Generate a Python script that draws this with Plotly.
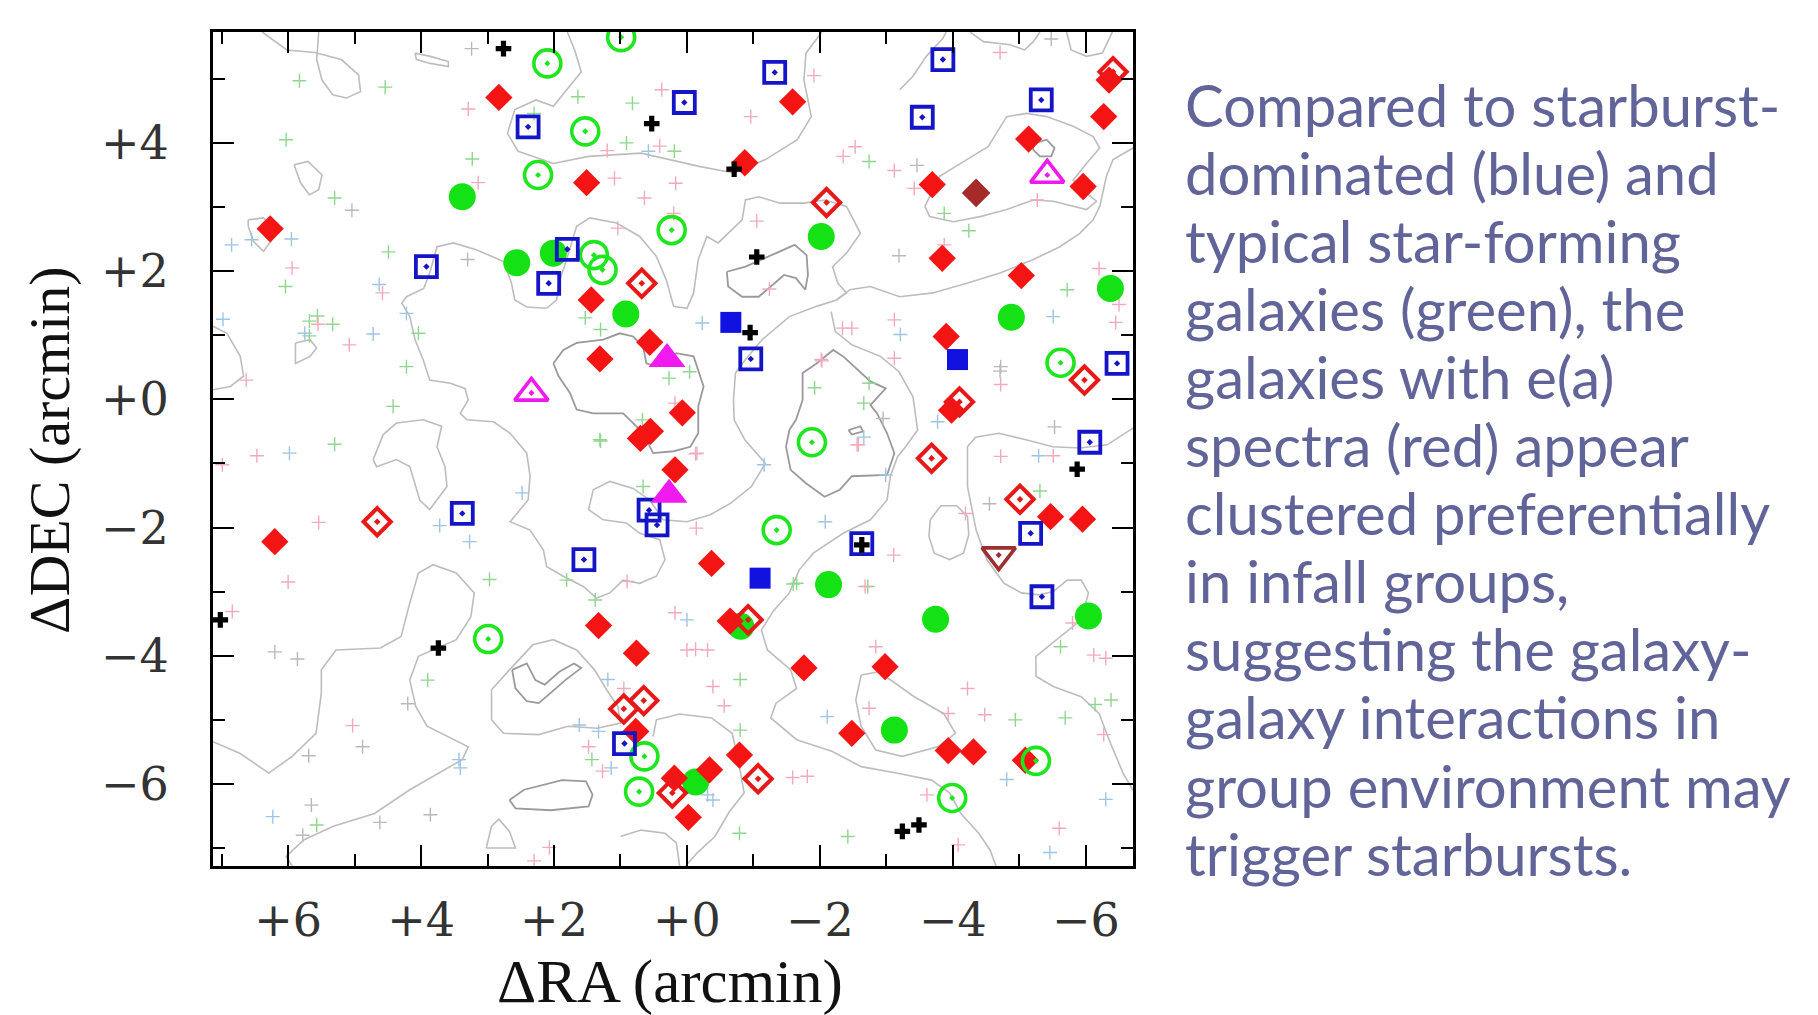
import plotly.graph_objects as go

# ---------------- data (arcmin offsets) ----------------
red_filled = [(2.83,4.71),(1.51,3.38),(6.27,2.66),(1.44,1.55),(0.56,0.89),(1.31,0.63),(0.07,-0.21),
              (0.70,-0.61),(0.55,-0.50),(-1.59,4.64),(-6.35,4.98),(-6.27,4.41),(-5.14,4.06),(-0.87,3.69),
              (-3.69,3.35),(-5.96,3.32),(-3.84,2.20),(-5.03,1.93),(-3.90,0.98),(-3.98,-0.17),(0.18,-1.10),
              (6.20,-2.22),(1.33,-3.53),(0.76,-3.96),(0.77,-5.18),(0.19,-5.91),(-0.02,-6.52),(-5.47,-1.83),
              (-5.95,-1.87),(-0.37,-2.56),(-0.65,-3.46),(-1.76,-4.19),(-2.98,-4.17),(-2.48,-5.21),
              (-3.93,-5.48),(-4.31,-5.50),(-5.09,-5.63),(-0.34,-5.78),(-0.79,-5.55)]
red_open = [(0.68,1.81),(-6.41,5.11),(-2.10,3.07),(-5.98,0.30),(-4.10,-0.04),(4.66,-1.91),(0.95,-4.83),
            (0.65,-4.70),(0.22,-6.14),(-3.68,-0.92),(-5.01,-1.56),(-0.92,-3.44),(-1.07,-5.92)]
green_filled = [(3.38,3.16),(2.56,2.13),(2.01,2.28),(0.92,1.33),(-2.02,2.54),(-6.37,1.73),(-4.88,1.28),
                (-0.13,-5.97),(-2.13,-2.89),(-3.74,-3.43),(-6.04,-3.38),(-0.81,-3.54),(-3.12,-5.16)]
green_open = [(0.99,5.65),(2.10,5.24),(1.53,4.18),(2.24,3.50),(0.23,2.64),(1.40,2.25),(1.27,2.02),
              (-5.62,0.57),(-1.88,-0.67),(2.99,-3.74),(-1.35,-2.04),(0.64,-5.57),(0.72,-6.12),
              (-5.25,-5.64),(-3.99,-6.22)]
blue_open = [(0.04,4.63),(2.39,4.25),(3.92,2.07),(1.80,2.34),(2.08,1.81),(-1.32,5.10),(-3.85,5.30),
             (-3.54,4.40),(-5.33,4.67),(-0.96,0.63),(-6.47,0.56),(3.38,-1.78),(0.57,-1.73),(0.45,-1.96),
             (1.55,-2.50),(0.94,-5.37),(-6.06,-0.67),(-5.17,-2.09),(-2.63,-2.25),(-5.34,-3.08)]
blue_filled = [(-0.66,1.20),(-4.07,0.62),(-1.10,-2.79)]
magenta_open = [(2.34,0.10),(-5.42,3.50)]
magenta_filled = [(0.30,0.63),(0.27,-1.49)]
brown_filled = [(-4.35,3.22)]
brown_open_down = [(-4.69,-2.43)]
black_plus = [(2.76,5.47),(0.53,4.30),(-0.71,3.59),(-1.05,2.22),(-0.95,1.04),(7.02,-3.44),(3.74,-3.88),
              (-2.63,-2.27),(-5.87,-1.09),(-3.24,-6.74),(-3.49,-6.64)]

faint_green = [(5.83,4.97),(4.54,4.87),(6.03,4.05),(3.23,3.75),(5.30,3.14),(4.49,2.30),(6.04,1.76),
               (4.04,1.03),(5.68,1.22),(5.56,1.30),(5.33,1.17),(5.68,0.99),(4.22,0.51),(4.42,-0.11),
               (1.64,4.72),(0.82,4.62),(0.91,4.00),(0.19,3.87),(1.53,1.27),(1.30,1.09),(-0.04,0.43),
               (0.27,0.33),(0.67,-0.32),(1.30,-0.65),(5.30,-0.70),(2.30,4.46),(-2.74,3.71),(-3.87,2.90),
               (-4.24,2.63),(-5.72,1.71),(-1.92,0.18),(-2.74,0.25),(-2.66,-0.06),(2.97,-2.81),(1.81,-2.82),
               (1.38,-3.13),(3.90,-4.38),(1.43,-5.62),(5.57,-6.64),(-1.60,-2.88),(-2.72,-2.92),(-0.80,-4.37),
               (-4.94,-5.00),(-5.69,-4.97),(-6.14,-4.76),(-6.38,-4.69),(-5.62,-3.86),(-0.80,-5.16),
               (-2.42,-6.82),(-0.79,-6.77),(-5.31,-1.43),(-1.65,-2.87),(0.66,-1.36),(1.31,-0.63)]
faint_pink = [(3.29,4.53),(3.14,3.38),(5.94,2.05),(4.58,1.66),(5.08,0.85),(5.55,1.17),(6.63,0.30),
              (1.20,3.88),(0.38,4.83),(0.41,3.95),(1.09,3.45),(0.17,3.37),(0.64,3.14),(0.20,2.90),
              (1.04,2.67),(-1.91,5.05),(-0.96,4.41),(-4.71,5.41),(-2.35,3.79),(-2.53,3.94),(-3.42,3.29),
              (-5.27,3.11),(-1.05,2.78),(-1.24,1.72),(-3.87,2.41),(-2.34,1.11),(-2.48,1.11),(-3.12,1.24),
              (-3.12,0.64),(-4.72,0.23),(-6.20,2.04),(-6.50,1.48),(-6.45,1.20),(-2.03,0.60),(-2.56,-0.71),
              (6.47,-0.88),(6.99,-1.02),(5.54,-1.92),(6.00,-2.85),(0.90,-2.84),(6.84,-3.31),(0.18,-3.33),
              (5.03,-5.09),(1.48,-5.42),(1.27,-5.80),(0.95,-4.51),(2.07,-6.99),(-0.14,-2.01),(0.00,-3.91),
              (2.30,-7.20),(-0.13,-0.85),(-2.58,-0.71),(-3.11,-2.43),(-0.13,-3.90),(-0.31,-3.91),
              (-0.39,-4.48),(-0.56,-4.78),(-2.74,-4.82),(-2.84,-3.86),(-4.22,-4.51),(-3.93,-4.90),
              (-4.48,-4.92),(-6.27,-5.23),(-6.12,-3.99),(-6.30,-4.04),(-5.80,-3.49),(-1.59,-5.90),
              (-1.81,-5.88),(-3.61,-6.17),(-4.08,-6.95),(-5.60,-6.69),(-4.72,-0.89),(-5.51,-0.88),
              (-4.19,-1.78),(0.18,-0.06),(-2.02,0.62),(-2.68,-2.92),(-0.15,-0.84),(-3.12,3.57),
              (-3.67,3.37)]
faint_blue = [(6.85,2.41),(5.95,2.50),(6.98,1.25),(5.75,1.03),(4.72,1.02),(4.63,1.79),(0.58,3.87),
              (4.22,1.34),(-0.23,1.19),(-3.21,1.01),(-5.51,1.29),(-3.77,-0.35),(-2.66,-0.59),(5.98,-0.84),
              (2.48,-1.46),(3.72,-1.97),(3.27,-2.22),(0.00,-3.44),(3.43,-5.62),(3.41,-5.75),(1.14,-5.75),
              (1.62,-5.08),(1.33,-5.18),(1.19,-4.37),(6.23,-6.51),(-1.16,-1.02),(-2.08,-1.91),
              (-2.11,-4.95),(-4.81,-5.93),(-6.30,-6.24),(-5.46,-7.07),(-5.29,-0.88),(-0.31,-6.17),
              (-0.39,-6.25),(6.55,2.49),(-2.99,-1.18)]
faint_gray = [(3.24,5.47),(5.04,2.95),(3.30,2.18),(-5.48,5.62),(-3.46,3.65),(-3.19,2.24),(-4.72,0.51),
              (-2.95,-0.30),(-5.53,-0.43),(6.20,-3.94),(5.86,-4.05),(4.20,-4.75),(4.88,-5.42),(5.69,-5.56),
              (5.65,-6.33),(5.78,-6.80),(4.62,-6.60),(3.86,-6.48),(-4.55,-1.63),(-4.71,0.44)]

# density contours (light level)
cont_A = [(1.80,5.73),(1.69,5.45),(1.59,5.11),(2.01,4.57),(2.27,4.67),(2.59,4.52),(2.70,4.15),(2.54,3.87),
          (2.01,3.68),(1.48,3.79),(0.69,3.84),(-0.20,3.63),(-0.71,3.53),(-1.18,3.74),(-1.66,4.05),
          (-1.87,4.41),(-1.76,4.98),(-1.79,5.40),(-2.03,5.73)]
cont_B = [(6.39,5.73),(6.02,5.45),(5.60,5.41),(5.20,5.30),(4.94,5.06),(4.91,4.80),(5.12,4.70),(5.33,4.75),
          (5.49,4.98),(5.57,5.30),(5.54,5.73)]
cont_blob1 = [(5.91,3.66),(5.70,3.71),(5.49,3.50),(5.54,3.27),(5.68,3.19),(5.81,3.37),(5.91,3.66)]
cont_blob2 = [(6.60,2.80),(6.37,2.83),(6.17,2.59),(6.37,2.31),(6.52,2.46),(6.60,2.70),(6.60,2.80)]
cont_blob3 = [(4.09,5.40),(3.86,5.35),(3.59,5.27),(3.59,5.19),(3.86,5.24),(4.07,5.30),(4.09,5.40)]
cont_blob4 = [(5.89,0.88),(5.67,0.93),(5.57,0.80),(5.67,0.67),(5.89,0.56),(5.89,0.88)]
cont_edge1 = [(7.13,1.14),(6.92,1.03),(6.72,0.67),(6.67,0.36),(6.87,0.20),(7.13,0.15)]
cont_C = [(2.76,2.15),(3.16,2.33),(3.51,2.44),(3.76,2.38),(3.87,1.97),(3.96,1.73),(4.22,1.60),(4.29,1.50),
          (4.17,1.29),(4.09,0.93),(3.97,0.62),(3.87,0.30),(3.56,0.25),(3.34,0.17),(3.29,-0.01),(3.41,-0.22),
          (3.31,-0.32),(2.91,-0.35),(2.66,-0.53),(2.41,-0.84),(2.36,-1.20),(2.39,-1.57),(2.66,-1.91),
          (2.36,-2.04),(2.16,-2.35),(2.11,-2.61),(1.86,-2.76),(1.56,-2.92),(1.36,-3.10),(1.16,-3.02),
          (0.96,-2.82),(0.71,-2.87),(0.46,-2.76),(0.33,-2.50),(0.41,-2.19),(0.71,-2.09),(0.91,-1.93),
          (1.26,-1.88),(1.48,-1.72),(1.41,-1.41),(1.16,-1.28),(0.81,-1.39),(0.56,-1.57),(0.36,-1.88),
          (0.00,-1.91),(-0.35,-1.80),(-0.66,-1.62),(-0.97,-1.36),(-1.18,-1.00),(-0.87,-0.63),(-0.71,-0.32),
          (-0.70,-0.01),(-0.73,0.41),(-0.88,0.62),(-1.13,0.93),(-1.54,1.29),(-1.95,1.45),(-2.25,1.55),
          (-2.45,1.71),(-2.76,1.76),(-3.20,1.60),(-3.70,1.66),(-4.21,1.81),(-4.71,1.97),(-5.21,2.18),
          (-5.61,2.38),(-5.91,2.59),(-6.11,2.80),(-6.21,3.01),(-6.31,3.48),(-6.41,3.74),(-6.71,3.92)]
cont_C_top = [(2.76,2.15),(2.64,1.81),(2.59,1.55),(2.41,1.44),(2.11,1.42),(1.96,1.55),(1.93,1.81),(1.81,2.18),
              (1.66,2.70),(1.46,2.83),(1.06,2.75),(0.71,2.54),(0.46,2.23),(0.31,1.86),(0.20,1.45),(0.00,1.42),
              (-0.10,1.66),(-0.17,2.18),(-0.30,2.54),(-0.47,2.44),(-0.83,2.80),(-0.88,3.11),(-1.08,3.16),
              (-1.40,3.06),(-1.76,3.06),(-2.08,3.11),(-2.40,3.01),(-2.61,2.59),(-2.40,2.28),(-2.19,2.07),
              (-2.27,1.81),(-2.40,1.66),(-2.25,1.55)]
cont_D2 = [(-3.58,3.01),(-3.80,3.48),(-4.21,3.74),(-4.53,3.94),(-4.81,4.41),(-5.11,4.46),(-5.41,4.41),
           (-5.81,4.26),(-6.11,4.10),(-6.21,3.92),(-6.01,3.68),(-5.81,3.42),(-6.01,3.22),(-6.16,3.09),
           (-6.01,2.96),(-5.51,3.09),(-5.21,3.11),(-4.81,2.96),(-4.41,2.85),(-4.01,2.77),(-3.65,2.85),
           (-3.58,3.01)]
cont_top_r = [(-4.26,5.73),(-4.46,5.58),(-4.86,5.53),(-5.08,5.45),(-5.21,5.58),(-5.31,5.73)]
cont_top_rr = [(-5.71,5.73),(-5.78,5.45),(-6.01,5.35),(-6.25,5.40),(-6.40,5.73)]
cont_top_m = [(-3.20,4.83),(-3.40,5.04),(-3.60,5.35),(-3.85,5.63),(-3.90,5.73)]
cont_mid = [(4.72,-0.94),(4.57,-0.55),(4.37,-0.37),(3.97,-0.32),(3.69,-0.42),(3.76,-0.74),(3.64,-1.05),
            (3.61,-1.36),(3.87,-1.72),(4.02,-1.57),(4.17,-1.05),(4.37,-0.94),(4.67,-1.05),(4.72,-0.94)]
cont_lobe = [(7.13,-5.34),(6.73,-5.52),(6.29,-5.83),(5.94,-5.57),(5.58,-5.21),(5.50,-4.58),(5.50,-4.22),
             (5.28,-3.91),(4.61,-3.88),(4.30,-3.70),(4.17,-3.18),(4.04,-2.71),(3.82,-2.58),(3.47,-2.71),
             (3.20,-3.02),(3.25,-3.39),(3.47,-3.75),(4.04,-4.01),(4.17,-4.38),(4.08,-4.79),(3.91,-5.10),
             (3.29,-5.42),(3.38,-5.62),(3.73,-5.83),(4.17,-6.09),(4.70,-6.46),(5.32,-6.66),(5.76,-6.87),
             (6.03,-7.13),(5.94,-7.28)]
cont_ctr = [(2.94,-5.00),(2.94,-4.53),(2.67,-4.22),(2.32,-3.83),(2.01,-3.75),(1.66,-3.91),(1.39,-4.22),
            (1.21,-4.53),(1.04,-4.79),(1.00,-5.05),(1.35,-5.13),(1.79,-5.10),(2.23,-5.23),(2.76,-5.21),
            (2.94,-5.00)]
cont_small_b = [(3.02,-7.00),(2.94,-6.66),(2.83,-6.55),(2.67,-6.74),(2.58,-7.00),(3.02,-7.00)]
cont_lowc = [(0.51,-5.26),(0.46,-5.00),(0.11,-4.91),(-0.37,-4.97),(-0.68,-5.21),(-0.77,-5.62),(-0.86,-6.14),
             (-0.64,-6.43),(-0.42,-6.82),(-0.15,-7.08),(0.02,-7.28)]
cont_lowl = [(1.00,-6.82),(0.69,-6.72),(0.33,-6.77),(0.16,-6.92),(0.11,-7.28)]
cont_E = [(-2.17,1.37),(-2.23,1.06),(-2.48,0.85),(-2.91,0.67),(-3.19,0.43),(-3.40,0.04),(-3.47,-0.48),
          (-3.29,-0.74),(-3.17,-0.89),(-3.06,-1.20),(-3.01,-1.57),(-2.76,-1.88),(-2.35,-2.09),(-1.90,-2.40),
          (-1.69,-2.66),(-1.54,-3.02),(-1.30,-3.30),(-1.12,-3.60),(-1.21,-3.91),(-1.56,-4.22),(-1.65,-4.51),
          (-1.34,-4.74),(-1.26,-4.97),(-1.65,-5.31),(-2.18,-5.49),(-2.62,-5.73),(-3.15,-5.83),(-3.68,-5.94),
          (-3.95,-6.14),(-4.12,-6.46),(-4.39,-6.77),(-4.56,-7.03),(-4.65,-7.28)]
cont_narrow = [(-2.62,-4.30),(-2.89,-4.25),(-3.42,-4.64),(-3.86,-4.90),(-4.04,-5.21),(-3.77,-5.42),
               (-3.24,-5.57),(-2.84,-5.47),(-2.62,-5.10),(-2.54,-4.69),(-2.62,-4.30)]
cont_R1 = [(-3.66,-1.88),(-3.82,-1.66),(-4.06,-1.66),(-4.22,-1.83),(-4.24,-2.11),(-4.16,-2.40),(-3.95,-2.50),
           (-3.72,-2.40),(-3.64,-2.14),(-3.66,-1.88)]
cont_F = [(-6.71,-0.45),(-6.32,-0.71),(-5.91,-0.76),(-5.50,-0.74),(-5.10,-0.63),(-4.69,-0.53),(-4.34,-0.59),
          (-4.22,-0.74),(-4.22,-1.36),(-4.35,-2.04),(-4.51,-2.50),(-4.77,-2.87),(-5.03,-3.02),(-5.30,-3.05),
          (-5.51,-3.00),(-5.72,-2.82),(-5.93,-2.82),(-6.04,-3.02),(-5.93,-3.44),(-5.56,-3.75),(-5.25,-4.01),
          (-5.25,-4.32),(-5.51,-4.48),(-5.93,-4.64),(-6.20,-4.90),(-6.35,-5.31),(-6.56,-5.83),(-6.71,-6.10)]
# denser (dark) level
dark_Z = [(-0.60,1.99),(-0.88,2.07),(-1.34,2.28),(-1.62,2.41),(-1.80,2.25),(-1.82,1.94),(-1.78,1.71),
          (-1.64,1.89),(-1.46,1.94),(-1.29,1.79),(-1.08,1.60),(-0.83,1.60),(-0.62,1.76),(-0.60,1.99)]
dark_ring = [(-1.54,-0.48),(-1.49,-0.74),(-1.56,-1.10),(-1.79,-1.31),(-2.07,-1.52),(-2.30,-1.41),(-2.48,-1.20),
             (-3.01,-1.18),(-3.12,-0.84),(-3.01,-0.53),(-2.86,-0.22),(-2.76,-0.09),(-2.99,0.17),(-2.76,0.28),
             (-2.35,0.67),(-2.20,0.77),(-1.95,0.56),(-1.74,0.41),(-1.74,-0.01),(-1.64,-0.32),(-1.54,-0.48)]
dark_dot = [(-2.43,-0.48),(-2.61,-0.42),(-2.65,-0.50),(-2.48,-0.55),(-2.43,-0.48)]
dark_loop_tr = [(-5.21,3.99),(-5.41,4.05),(-5.53,3.92),(-5.48,3.79),(-5.31,3.79),(-5.21,3.89),(-5.21,3.99)]
dark_core = [(2.01,0.56),(1.86,0.77),(1.66,0.88),(1.26,0.93),(1.01,1.03),(0.81,0.98),(0.66,0.82),(0.61,0.56),
             (0.46,0.51),(0.16,0.72),(-0.10,0.67),(-0.25,0.20),(-0.17,-0.11),(-0.17,-0.53),(-0.05,-0.74),
             (0.20,-0.81),(0.51,-0.84),(0.61,-0.63),(0.76,-0.42),(0.96,-0.22),(1.41,-0.22),(1.66,-0.16),
             (1.76,0.10),(1.93,0.36),(2.01,0.56)]
dark_V = [(2.63,-4.22),(2.41,-4.12),(2.28,-4.38),(2.14,-4.45),(1.92,-4.25),(1.70,-4.12),(1.59,-4.19),
          (1.83,-4.38),(2.05,-4.58),(2.23,-4.74),(2.41,-4.71),(2.58,-4.51),(2.63,-4.22)]
dark_low = [(2.67,-6.25),(2.45,-6.09),(1.88,-5.94),(1.52,-5.96),(1.42,-6.17),(1.48,-6.35),(2.05,-6.41),
            (2.58,-6.38),(2.67,-6.25)]

light_contours = [cont_A, cont_B, cont_blob1, cont_blob2, cont_blob3, cont_blob4, cont_edge1, cont_C,
                  cont_C_top, cont_D2, cont_top_r, cont_top_rr, cont_top_m, cont_mid, cont_lobe, cont_ctr,
                  cont_small_b, cont_lowc, cont_lowl, cont_E, cont_narrow, cont_R1, cont_F]
dark_contours = [dark_Z, dark_ring, dark_dot, dark_loop_tr, dark_core, dark_V, dark_low]

x_ticks = [6, 4, 2, 0, -2, -4, -6]
x_ticktext = ["+6", "+4", "+2", "+0", "\u22122", "\u22124", "\u22126"]
y_ticks = [4, 2, 0, -2, -4, -6]
y_ticktext = ["+4", "+2", "+0", "\u22122", "\u22124", "\u22126"]
x_minor = [7, 5, 3, 1, -1, -3, -5]
y_minor = [5, 3, 1, -1, -3, -5, -7]

caption_lines = ["Compared to starburst-", "dominated (blue) and", "typical star-forming",
                 "galaxies (green), the", "galaxies with e(a)", "spectra (red) appear",
                 "clustered preferentially", "in infall groups,", "suggesting the galaxy-",
                 "galaxy interactions in", "group environment may", "trigger starbursts."]

# ---------------- figure ----------------
fig = go.Figure()

def xs(pts):
    return [p[0] for p in pts]

def ys(pts):
    return [p[1] for p in pts]

def add_lines(groups, color, width):
    X, Y = [], []
    for g in groups:
        X += xs(g) + [None]
        Y += ys(g) + [None]
    fig.add_trace(go.Scatter(x=X, y=Y, mode="lines", line=dict(color=color, width=width),
                             hoverinfo="skip", showlegend=False))

add_lines(light_contours, "#bdbdbd", 1.6)
add_lines(dark_contours, "#9a9a9a", 1.8)

def add_pts(pts, symbol, color, size, lw=0, lcolor=None):
    fig.add_trace(go.Scatter(x=xs(pts), y=ys(pts), mode="markers", showlegend=False,
                             marker=dict(symbol=symbol, color=color, size=size,
                                         line=dict(width=lw, color=lcolor or color))))

add_pts(faint_green, "cross-thin-open", "#8fd68f", 10, 1.4)
add_pts(faint_pink, "cross-thin-open", "#f2aabb", 10, 1.4)
add_pts(faint_blue, "cross-thin-open", "#9fc4e4", 10, 1.4)
add_pts(faint_gray, "cross-thin-open", "#b9b9b9", 10, 1.4)

add_pts(green_filled, "circle", "#14e214", 27)
add_pts(red_filled, "diamond", "#f51414", 21)
add_pts(red_open, "diamond-open-dot", "#e81818", 21, 4.0)
add_pts(green_open, "circle-open-dot", "#1ee61e", 27, 3.6)
add_pts(blue_open, "square-open-dot", "#1414c8", 21, 3.8)
add_pts(blue_filled, "square", "#1212e0", 21)
add_pts(magenta_open, "triangle-up-open-dot", "#f01af0", 29, 3.6)
add_pts(magenta_filled, "triangle-up", "#f01af0", 32)
add_pts(brown_filled, "diamond", "#a52a2a", 22)
add_pts(brown_open_down, "triangle-down-open-dot", "#9c2f2f", 29, 3.6)
add_pts(black_plus, "cross", "#000000", 13)

axis_common = dict(ticks="inside", ticklen=21, tickwidth=2, tickcolor="black", showline=True,
                   linewidth=3, linecolor="black", mirror="ticks", showgrid=False, zeroline=False,
                   tickfont=dict(family="DejaVu Serif", size=46, color="#333333"))

fig.update_xaxes(range=[7.13, -6.71], tickmode="array", tickvals=x_ticks, ticktext=x_ticktext,
                 ticklabelstandoff=12,
                 minor=dict(tickmode="array", tickvals=x_minor, ticks="inside", ticklen=12,
                            tickwidth=2, tickcolor="black", showgrid=False),
                 **axis_common)
fig.update_yaxes(range=[-7.28, 5.73], tickmode="array", tickvals=y_ticks, ticktext=y_ticktext,
                 ticklabelstandoff=32,
                 minor=dict(tickmode="array", tickvals=y_minor, ticks="inside", ticklen=12,
                            tickwidth=2, tickcolor="black", showgrid=False),
                 **axis_common)

# the page adds an 8 px body margin; the figure is sized to fill the rest of the window
fig_w, fig_h = 1810, 1007
m_l, m_t = 205, 24
plot_w, plot_h = 920.0, 834.0
annotations = [
    dict(text="\u0394RA (arcmin)", xref="paper", yref="paper", x=0.497, y=-0.139,
         xanchor="center", yanchor="middle", showarrow=False,
         font=dict(family="Liberation Serif", size=61, color="#111111")),
    dict(text="\u0394DEC (arcmin)", xref="paper", yref="paper", x=-0.178, y=0.498,
         xanchor="center", yanchor="middle", showarrow=False, textangle=-90,
         font=dict(family="Liberation Serif", size=58, color="#111111")),
]
for i, line in enumerate(caption_lines):
    y_fig = 96 + 68.1 * i
    annotations.append(dict(text=line, xref="paper", yref="paper",
                            x=(1175 - m_l) / plot_w, y=(m_t + plot_h - y_fig) / plot_h,
                            xanchor="left", yanchor="middle", showarrow=False,
                            font=dict(family="Lato", size=58, color="#616499")))

fig.update_layout(width=fig_w, height=fig_h,
                  margin=dict(l=m_l, r=fig_w - m_l - int(plot_w), t=m_t, b=fig_h - m_t - int(plot_h)),
                  paper_bgcolor="white", plot_bgcolor="white", annotations=annotations,
                  showlegend=False)

fig.write_html("out.html")
